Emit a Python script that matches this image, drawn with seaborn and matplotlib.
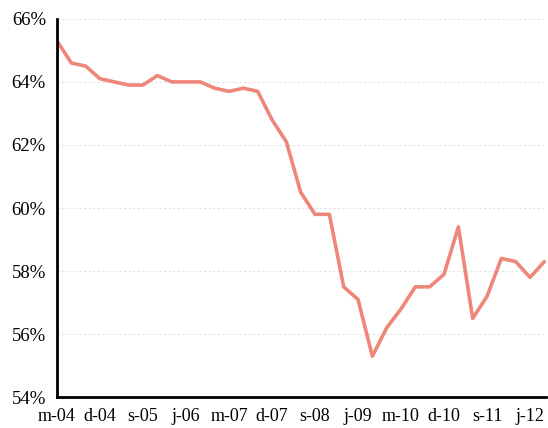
import numpy as np
import pandas as pd
import seaborn as sns
import matplotlib.pyplot as plt

# quarterly values, mar-2004 .. sep-2012
values = [65.3, 64.6, 64.5, 64.1, 64.0, 63.9, 63.9, 64.2, 64.0, 64.0,
          64.0, 63.8, 63.7, 63.8, 63.7, 62.8, 62.1, 60.5, 59.8, 59.8,
          57.5, 57.1, 55.3, 56.2, 56.8, 57.5, 57.5, 57.9, 59.4, 56.5,
          57.2, 58.4, 58.3, 57.8, 58.3]
tick_labels = ["m-04", "d-04", "s-05", "j-06", "m-07", "d-07",
               "s-08", "j-09", "m-10", "d-10", "s-11", "j-12"]
y_ticks = [54, 56, 58, 60, 62, 64, 66]

df = pd.DataFrame({"q": np.arange(len(values)), "v": values})

sns.set_style("white")
plt.rcParams["font.family"] = ["Liberation Serif", "DejaVu Serif"]

fig = plt.figure(figsize=(5.48, 4.28), dpi=100)
ax = fig.add_axes([0.104, 0.072, 0.892, 0.884])

sns.lineplot(data=df, x="q", y="v", color="#EE877A", linewidth=2.6, ax=ax)

ax.set_ylim(54, 66)
ax.set_xlim(0, 34.1)
ax.set_yticks(y_ticks)
ax.set_yticklabels([f"{t}%" for t in y_ticks], fontsize=13.5, color="black")
ax.set_xticks(np.arange(0, 34, 3))
ax.set_xticklabels(tick_labels, fontsize=13, color="black")
ax.set_xlabel("")
ax.set_ylabel("")

for t in y_ticks[1:]:
    ax.axhline(t, color="#e3e3e3", linewidth=0.8, linestyle=(0, (2, 2)), zorder=0)

sns.despine(ax=ax)
for s in ["left", "bottom"]:
    ax.spines[s].set_color("black")
    ax.spines[s].set_linewidth(2)
ax.tick_params(axis="both", direction="out", length=5, width=1, color="black")
ax.tick_params(axis="x", pad=2.5)
ax.tick_params(axis="y", pad=3)

fig.savefig("out.png", dpi=100)
